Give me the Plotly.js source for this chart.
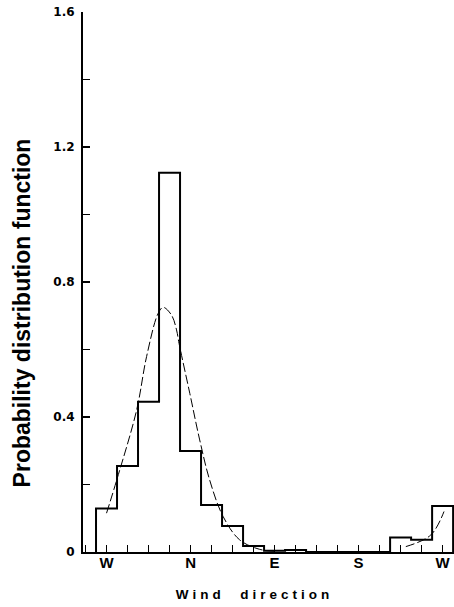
<!DOCTYPE html>
<html>
<head>
<meta charset="utf-8">
<script src="https://cdn.plot.ly/plotly-3.0.1.min.js"></script>
<style>html,body{margin:0;padding:0;background:#fff;}</style>
</head>
<body>
<div id="chart" style="width:454px;height:607px;"></div>
<script>
// Histogram bins: centre direction in degrees measured from W (0=W, 90=N, 180=E, 270=S, 360=W)
const binCenters = [0, 22.5, 45, 67.5, 90, 112.5, 135, 157.5, 180, 202.5, 225, 247.5, 270, 292.5, 315, 337.5, 360];
const binValues  = [0.129, 0.255, 0.445, 1.124, 0.299, 0.139, 0.077, 0.018, 0.004, 0.006, 0, 0, 0, 0, 0.043, 0.036, 0.136];
const binWidth = 22.5;

// Fitted curve (dashed)
const curveX1 = [0, 10.9, 32.2, 42.9, 55.3, 60.7, 69.6, 75, 77.7, 89.2, 99.8, 110.5, 124.9, 142.6, 163.9, 181.7];
const curveY1 = [0.115, 0.213, 0.42, 0.579, 0.707, 0.725, 0.702, 0.658, 0.618, 0.47, 0.332, 0.213, 0.105, 0.036, 0.008, 0.002];
const curveX2 = [320.6, 347.2, 361.5];
const curveY2 = [0.016, 0.05, 0.12];

const dirTickVals = [0, 90, 180, 270, 360];
const dirTickText = ['W', 'N', 'E', 'S', 'W'];
const pdfTickVals = [0, 0.4, 0.8, 1.2, 1.6];
const pdfTickText = ['0', '0.4', '0.8', '1.2', '1.6'];

// Build step outline of histogram
const stepX = [binCenters[0] - binWidth / 2];
const stepY = [0];
for (let i = 0; i < binCenters.length; i++) {
  stepX.push(binCenters[i] - binWidth / 2);
  stepY.push(binValues[i]);
}
stepX.push(binCenters[binCenters.length - 1] + binWidth / 2);
stepY.push(0);

const traces = [
  {x: stepX, y: stepY, mode: 'lines', line: {shape: 'hv', color: '#000', width: 2}, cliponaxis: false, hoverinfo: 'skip', showlegend: false},
  {x: curveX1, y: curveY1, mode: 'lines', line: {shape: 'spline', color: '#000', width: 1, dash: '9px,3px'}, showlegend: false},
  {x: curveX2, y: curveY2, mode: 'lines', line: {shape: 'spline', color: '#000', width: 1, dash: '9px,3px'}, showlegend: false}
];

const layout = {
  width: 454, height: 607,
  margin: {l: 83, r: 0, t: 12, b: 55},
  paper_bgcolor: '#fff', plot_bgcolor: '#fff',
  showlegend: false,
  font: {family: 'Liberation Sans, Arial, sans-serif', color: '#000'},
  xaxis: {
    range: [-25.2, 372.2],
    showgrid: false, zeroline: false,
    showline: true, linecolor: '#000', linewidth: 2,
    tickmode: 'array', tickvals: dirTickVals, ticktext: dirTickText,
    ticks: 'inside', ticklen: 7, tickwidth: 1.5, tickcolor: '#000',
    minor: {dtick: 22.5, tick0: 0, ticks: 'inside', ticklen: 7, tickwidth: 1.5, tickcolor: '#000', showgrid: false},
    tickfont: {family: 'Liberation Sans, Arial, sans-serif', size: 15, color: '#000', weight: 'bold'},
    ticklabelstandoff: -4,
    title: {text: 'Wind  direction', font: {family: 'Liberation Sans, Arial, sans-serif', size: 13.5, color: '#000', weight: 'bold'}, standoff: 20}
  },
  yaxis: {
    range: [0, 1.6],
    showgrid: false, zeroline: false,
    showline: true, linecolor: '#000', linewidth: 2,
    tickmode: 'array', tickvals: pdfTickVals, ticktext: pdfTickText,
    ticks: 'inside', ticklen: 7, tickwidth: 1.5, tickcolor: '#000',
    minor: {dtick: 0.2, tick0: 0, ticks: 'inside', ticklen: 7, tickwidth: 1.5, tickcolor: '#000', showgrid: false},
    tickfont: {family: 'DejaVu Sans, sans-serif', size: 12, color: '#000', weight: 'bold'},
    ticklabelstandoff: 4,
    title: {text: 'Probability distribution function', font: {family: 'Liberation Sans, Arial, sans-serif', size: 23, color: '#000', weight: 'bold'}, standoff: 16}
  }
};

Plotly.newPlot('chart', traces, layout, {displayModeBar: false, staticPlot: true}).then(function () {
  const xt = document.querySelector('.xtitle');
  if (xt) {
    xt.style.letterSpacing = '4px';
    xt.setAttribute('x', parseFloat(xt.getAttribute('x')) - 14);
  }
  const yt = document.querySelector('.ytitle');
  if (yt) {
    const tr = yt.getAttribute('transform') || '';
    yt.setAttribute('transform', 'translate(0,31) ' + tr);
  }
});
</script>
</body>
</html>
